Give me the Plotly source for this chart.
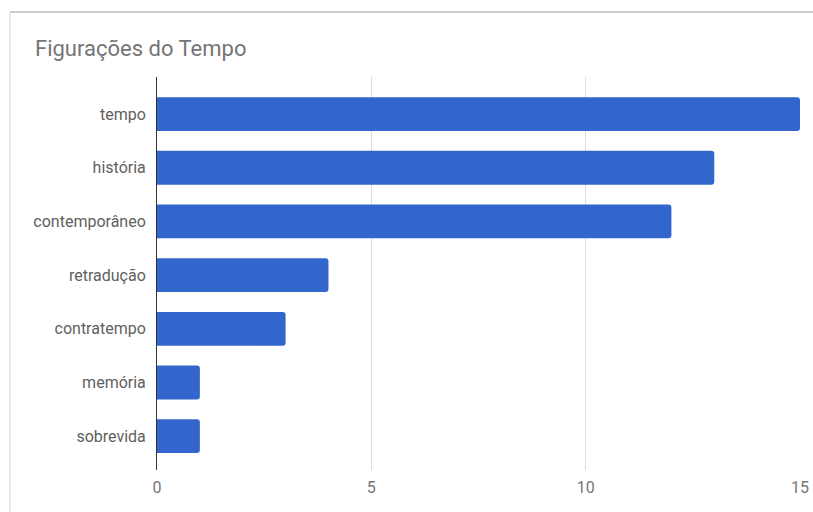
import plotly.graph_objects as go

categories = ["tempo", "história", "contemporâneo", "retradução", "contratempo", "memória", "sobrevida"]
values = [15, 13, 12, 4, 3, 1, 1]
x_ticks = [0, 5, 10, 15]
title_text = "Figurações do Tempo"

W, H = 813, 512
L, R, T, B = 157, 13, 77, 42

fig = go.Figure(go.Bar(
    x=values, y=categories, orientation="h",
    marker=dict(color="#3366cc", cornerradius=3, line=dict(width=0)),
    width=0.63,
))

fig.update_layout(
    width=W, height=H,
    margin=dict(l=L, r=R, t=T, b=B, pad=0, autoexpand=False),
    paper_bgcolor="white", plot_bgcolor="white",
    font=dict(family="Roboto, Arial, sans-serif", size=16, color="#616161"),
    title=dict(text=title_text, x=35 / W, xref="container", xanchor="left",
               y=1 - 48 / H, yref="container", yanchor="middle",
               font=dict(size=22, color="#757575", family="Roboto, Arial, sans-serif")),
    showlegend=False,
    xaxis=dict(range=[0, 15], tickvals=x_ticks, showgrid=True, gridcolor="#dcdcdc",
               gridwidth=1, zeroline=False, showline=False, ticks="",
               tickfont=dict(size=16, color="#757575"), ticklabelstandoff=6,
               fixedrange=True, automargin=False),
    yaxis=dict(type="category", categoryorder="array", categoryarray=categories,
               range=[6.63, -0.69], showgrid=False, zeroline=False,
               showline=True, linecolor="#333333", linewidth=1, ticks="",
               tickfont=dict(size=16, color="#5f5f5f"), ticklabelstandoff=7,
               automargin=False),
    shapes=[
        dict(type="line", xref="paper", yref="paper",
             x0=(10 - L) / (W - L - R), x1=(W - L) / (W - L - R),
             y0=(H - B - 12) / (H - T - B), y1=(H - B - 12) / (H - T - B),
             line=dict(color="#bdbdbd", width=1.5)),
        dict(type="line", xref="paper", yref="paper",
             x0=(10 - L) / (W - L - R), x1=(10 - L) / (W - L - R),
             y0=(H - B - 12) / (H - T - B), y1=-B / (H - T - B),
             line=dict(color="#d6d6d6", width=1)),
    ],
)

fig.write_html(
    "out.html",
    post_script="document.documentElement.style.overflow='hidden';document.body.style.margin='0';",
)
